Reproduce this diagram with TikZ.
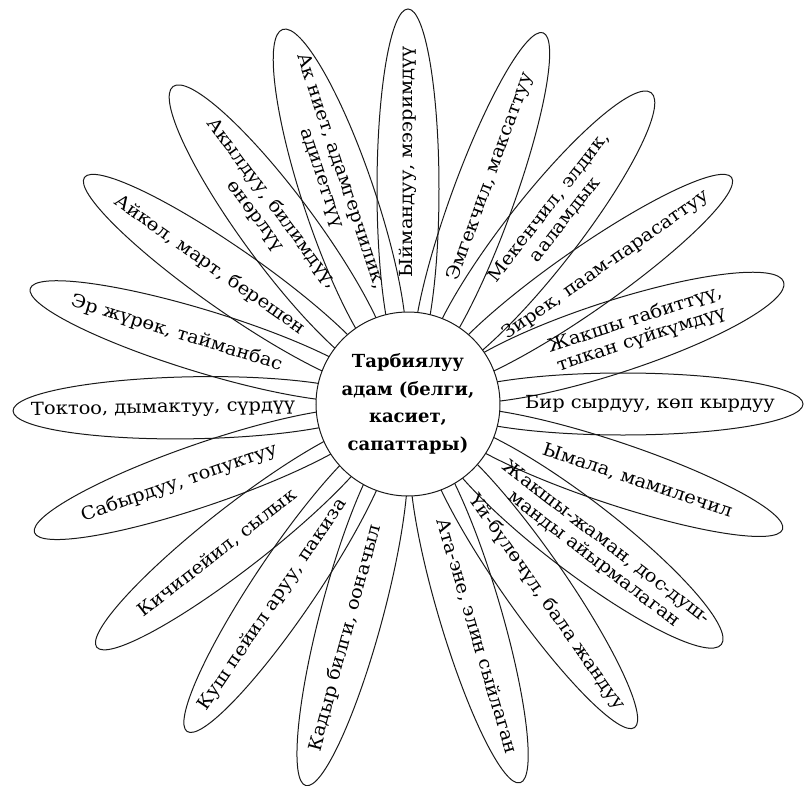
\documentclass[tikz,border=0pt]{standalone}
\usepackage{fontspec}
\setmainfont{DejaVu Serif}[FakeStretch=1.08]
\newfontfamily\hubfont{DejaVu Serif}
\usetikzlibrary{shapes.geometric}

\begin{document}
\begin{tikzpicture}[
    x=1pt, y=1pt,
    font=\fontsize{18}{20.5}\selectfont,
    petal/.style={ellipse, draw=black!90, line width=1pt, inner sep=0pt,
                  minimum width=360pt, minimum height=62pt},
    petaltwo/.style={petal, minimum height=72pt},
    ptext/.style={align=center, inner sep=0pt, text=black},
    hub/.style={circle, draw=black!90, line width=1pt, fill=white,
                minimum size=184pt, inner sep=0pt, align=center,
                font=\hubfont\fontsize{18}{27.5}\selectfont\bfseries},
]
\useasboundingbox (-408,-381) rectangle (397,404);

% --- petals: outlines only, they cross each other near the hub ---
\node[petal, rotate=90]      (pet-iyman)   at (90:215)    {};
\node[petal, rotate=70]      (pet-emgek)   at (70:215)    {};
\node[petaltwo, rotate=52]   (pet-meken)   at (52:215)    {};
\node[petal, rotate=35]      (pet-zirek)   at (35:215)    {};
\node[petaltwo, rotate=18]   (pet-tabit)   at (18:215)    {};
\node[petal, rotate=0]       (pet-bir)     at (0:215)     {};
\node[petal, rotate=-18.5]   (pet-ymala)   at (-18.5:215) {};
\node[petaltwo, rotate=-37.5](pet-dos)     at (-37.5:215) {};
\node[petal, rotate=-55]     (pet-uybulo)  at (-55:215)   {};
\node[petal, rotate=-73.5]   (pet-ataene)  at (-73.5:215) {};
\node[petal, rotate=75]      (pet-kadyr)   at (-105:215)  {};
\node[petal, rotate=56]      (pet-kush)    at (-124:215)  {};
\node[petal, rotate=38]      (pet-kichi)   at (-142:215)  {};
\node[petal, rotate=19]      (pet-sabyr)   at (-161:215)  {};
\node[petal, rotate=1]       (pet-toktoo)  at (181:215)   {};
\node[petal, rotate=-17]     (pet-erjurok) at (163:215)   {};
\node[petal, rotate=-35]     (pet-aykol)   at (145:215)   {};
\node[petaltwo, rotate=-53.5](pet-akyl)    at (126.5:215) {};
\node[petaltwo, rotate=-71.5](pet-akniet)  at (108.5:215) {};

% --- hub on top of the petal roots ---
\node[hub] (hub) at (0,0) {Тарбиялуу\\адам (белги,\\касиет,\\сапаттары)};

% --- petal texts (right half reads outwards, left half inwards) ---
\node[ptext, rotate=90]    (iyman)   at (90:242)    {Ыймандуу, мээримдүү};
\node[ptext, rotate=70]    (emgek)   at (70:242)    {Эмгекчил, максаттуу};
\node[ptext, rotate=52]    (meken)   at (52:242)    {Мекенчил, элдик,\\ааламдык};
\node[ptext, rotate=35]    (zirek)   at (35:242)    {Зирек, паам-парасаттуу};
\node[ptext, rotate=18]    (tabit)   at (18:242)    {Жакшы табиттүү,\\тыкан сүйкүмдүү};
\node[ptext, rotate=0]     (bir)     at (0:242)     {Бир сырдуу, көп кырдуу};
\node[ptext, rotate=-18.5] (ymala)   at (-18.5:242) {Ымала, мамилечил};
\node[ptext, rotate=-37.5] (dos)     at (-37.5:242) {Жакшы-жаман, дос-душ-\\манды айырмалаган};
\node[ptext, rotate=-55]   (uybulo)  at (-55:242)   {Үй-бүлөчүл, бала жандуу};
\node[ptext, rotate=-73.5] (ataene)  at (-73.5:242) {Ата-эне, элин сыйлаган};
\node[ptext, rotate=75]    (kadyr)   at (-105:242)  {Кадыр билги, ооначыл};
\node[ptext, rotate=56]    (kush)    at (-124:242)  {Куш пейил аруу, пакиза};
\node[ptext, rotate=38]    (kichi)   at (-142:242)  {Кичипейил, сылык};
\node[ptext, rotate=19]    (sabyr)   at (-161:242)  {Сабырдуу, топуктуу};
\node[ptext, rotate=1]     (toktoo)  at (181:245)   {Токтоо, дымактуу, сүрдүү};
\node[ptext, rotate=-17]   (erjurok) at (163:242)   {Эр жүрөк, тайманбас};
\node[ptext, rotate=-35]   (aykol)   at (145:242)   {Айкөл, март, берешен};
\node[ptext, rotate=-53.5] (akyl)    at (126.5:242) {Акылдуу, билимдүү,\\өнөрлүү};
\node[ptext, rotate=-71.5] (akniet)  at (108.5:242) {Ак ниет, адамгерчилик,\\адилеттүү};
\end{tikzpicture}
\end{document}
